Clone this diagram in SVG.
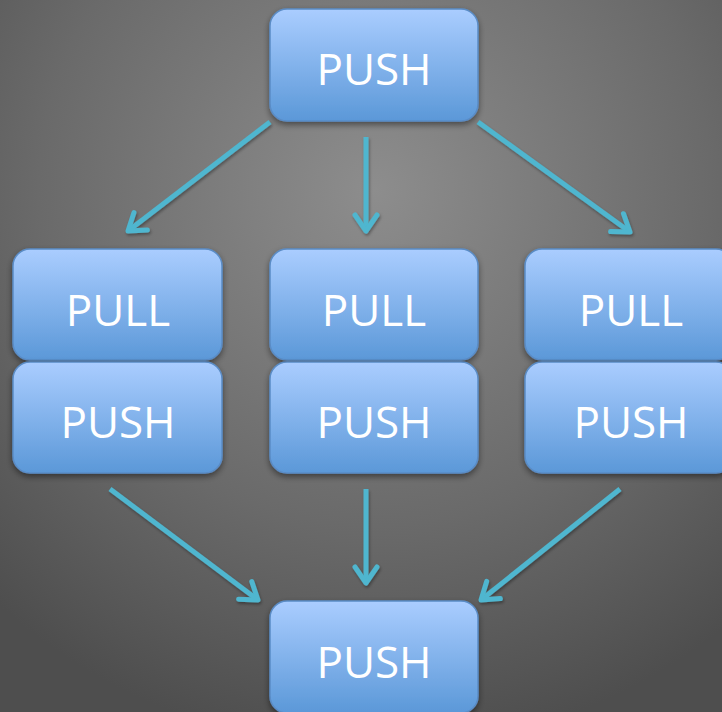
<svg xmlns="http://www.w3.org/2000/svg" width="722" height="712" viewBox="0 0 722 712">
  <defs>
    <radialGradient id="bg" cx="375" cy="190" r="560" gradientUnits="userSpaceOnUse">
      <stop offset="0" stop-color="#8d8d8d"/>
      <stop offset="0.6" stop-color="#6a6a6a"/>
      <stop offset="1" stop-color="#4e4e4e"/>
    </radialGradient>
    <linearGradient id="box" x1="0" y1="0" x2="0" y2="1">
      <stop offset="0" stop-color="#aacdff"/>
      <stop offset="1" stop-color="#5b98d8"/>
    </linearGradient>
    <filter id="shadow" x="-20%" y="-20%" width="140%" height="150%">
      <feDropShadow dx="0" dy="3" stdDeviation="3" flood-color="#000" flood-opacity="0.45"/>
    </filter>
    <filter id="ashadow" x="-20%" y="-20%" width="140%" height="140%">
      <feDropShadow dx="1" dy="2" stdDeviation="1.5" flood-color="#000" flood-opacity="0.35"/>
    </filter>
    <marker id="head" markerUnits="userSpaceOnUse" markerWidth="40" markerHeight="40" refX="0" refY="0" viewBox="-20 -20 40 40" orient="auto" overflow="visible">
      <path d="M-16,-11 L0,0 L-16,11" fill="none" stroke="#4fb6cf" stroke-width="5" stroke-linecap="round" stroke-linejoin="round"/>
    </marker>
  </defs>
  <style>
    .node rect { fill: url(#box); stroke: #5a8cc6; stroke-width: 1.5; filter: url(#shadow); }
    .node text { fill: #ffffff; font-family: "Open Sans", "Noto Sans", "Liberation Sans", sans-serif; font-size: 44px; text-anchor: middle; }
    .conn line { stroke: #4fb6cf; stroke-width: 5; marker-end: url(#head); }
  </style>

  <rect x="0" y="0" width="722" height="712" fill="url(#bg)"/>

  <g id="connectors" class="conn" filter="url(#ashadow)">
    <line x1="270" y1="122" x2="128" y2="231"/>
    <line x1="366" y1="137" x2="366" y2="231"/>
    <line x1="478" y1="122" x2="630" y2="232"/>
    <line x1="110" y1="489" x2="258" y2="600"/>
    <line x1="366" y1="489" x2="366" y2="583"/>
    <line x1="620" y1="489" x2="481" y2="600"/>
  </g>

  <g id="push-top" class="node">
    <rect x="270" y="9" width="208" height="112" rx="17"/>
    <text x="374" y="85">PUSH</text>
  </g>

  <g id="pull-left" class="node">
    <rect x="13" y="249" width="209" height="111" rx="17"/>
    <text x="118" y="326">PULL</text>
  </g>
  <g id="push-left" class="node">
    <rect x="13" y="362" width="209" height="111" rx="17"/>
    <text x="118" y="438">PUSH</text>
  </g>

  <g id="pull-mid" class="node">
    <rect x="270" y="249" width="208" height="111" rx="17"/>
    <text x="374" y="326">PULL</text>
  </g>
  <g id="push-mid" class="node">
    <rect x="270" y="362" width="208" height="111" rx="17"/>
    <text x="374" y="438">PUSH</text>
  </g>

  <g id="pull-right" class="node">
    <rect x="525" y="249" width="208" height="111" rx="17"/>
    <text x="631" y="326">PULL</text>
  </g>
  <g id="push-right" class="node">
    <rect x="525" y="362" width="208" height="111" rx="17"/>
    <text x="631" y="438">PUSH</text>
  </g>

  <g id="push-bottom" class="node">
    <rect x="270" y="601" width="208" height="112" rx="17"/>
    <text x="374" y="678">PUSH</text>
  </g>
</svg>
